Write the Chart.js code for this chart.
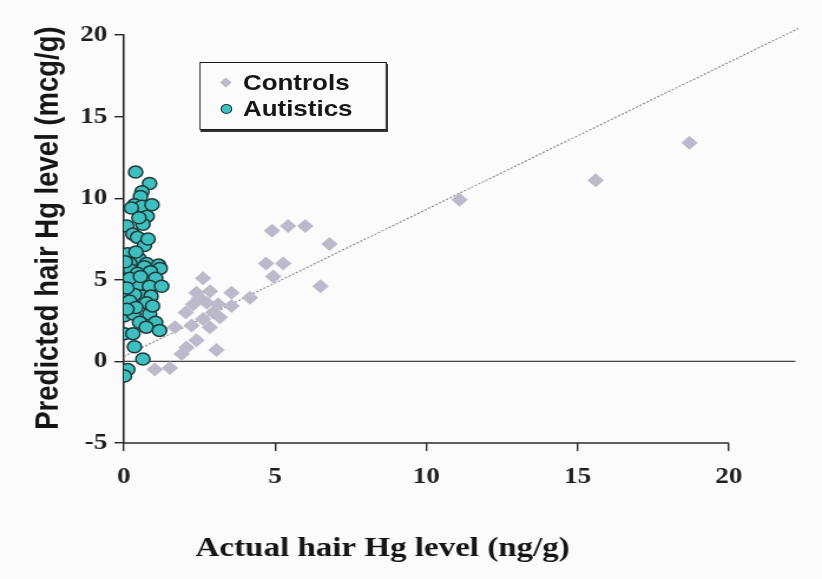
<!DOCTYPE html>
<html><head><meta charset="utf-8">
<script src="https://cdn.jsdelivr.net/npm/chart.js@4/dist/chart.umd.min.js"></script>
<style>
html,body{margin:0;padding:0;background:#fbfbfb;overflow:hidden;width:822px;height:579px;}
#wrap{position:absolute;left:0;top:0;width:697px;height:579px;transform:scaleX(1.1793);transform-origin:0 0;}
#legend{position:absolute;left:169px;top:62px;width:157px;height:66px;border:1.5px solid #1a1a1a;box-shadow:1px 2px 0 #333;background:#fbfbfb;font:bold 22px 'Liberation Sans',Arial,sans-serif;color:#161616;}
.row{position:absolute;left:0;height:26px;line-height:26px;}
.lbl{position:absolute;left:36px;top:0;white-space:nowrap;}
.dia{position:absolute;left:18px;top:9px;width:7px;height:7px;background:#bcb9cb;transform:rotate(45deg);}
.cir{position:absolute;left:17px;top:8px;width:8px;height:8px;border-radius:50%;background:#3fbfbf;border:1.5px solid #1d3b3d;}
</style></head>
<body>
<div id="wrap">
<canvas id="c"></canvas>
<div id="legend">
 <div class="row" style="top:7px"><span class="dia"></span><span class="lbl">Controls</span></div>
 <div class="row" style="top:33px"><span class="cir"></span><span class="lbl">Autistics</span></div>
</div>
</div>
<script>
// ---- data ----
const xTicks = [0, 5, 10, 15, 20];
const yTicks = [-5, 0, 5, 10, 15, 20];
const xTitle = 'Actual hair Hg level (ng/g)';
const yTitle = 'Predicted hair Hg level (mcg/g)';

const controlsX = [18.7, 15.6, 11.1, 6.8, 6.5, 6.0, 5.43, 4.9, 4.7, 5.27, 4.94, 4.17, 3.56, 3.56, 2.62, 2.4, 2.29, 2.74, 3.12, 2.95, 3.17, 2.62, 2.84, 2.24, 1.69, 2.4, 2.07, 1.91, 3.06, 1.52, 1.02, 2.5, 2.85, 2.05];
const controlsY = [13.4, 11.1, 9.9, 7.2, 4.6, 8.3, 8.3, 8.0, 6.0, 6.0, 5.2, 3.9, 4.2, 3.4, 5.1, 4.2, 3.5, 3.6, 3.5, 3.0, 2.7, 2.6, 2.1, 2.2, 2.1, 1.3, 0.85, 0.45, 0.7, -0.4, -0.5, 3.9, 4.3, 3.0];

const autisticsX = [0.39, 0.85, 0.6, 0.55, 0.35, 0.6, 0.93, 0.25, 0.77, 0.1, 0.63, 0.3, 0.45, 0.68, 0.13, 0.5, 0.2, 0.75, 1.15, 0.22, 0.68, 1.2, 0.45, 0.88, 1.05, 0.08, 0.5, 0.85, 1.25, 0.15, 0.6, 0.9, 0.35, 0.19, 0.75, 0.02, 0.32, 0.85, 0.52, 1.05, 0.74, 1.18, 0.02, 0.3, 0.35, 0.63, 0.13, 0.02, 0.4, 0.1, 0.95, 0.5, 0.2, 0.55, 0.05, 0.8, 0.4, 0.1];
const autisticsY = [11.6, 10.9, 10.4, 10.1, 9.6, 9.5, 9.6, 9.4, 8.9, 8.3, 8.4, 7.8, 7.6, 7.1, 6.6, 6.3, 6.0, 6.0, 5.9, 5.6, 5.8, 5.7, 5.4, 5.5, 5.1, 4.8, 4.7, 4.6, 4.6, 4.2, 4.0, 4.0, 4.1, 3.7, 3.6, 2.8, 2.9, 2.9, 2.4, 2.4, 2.1, 1.9, 1.7, 1.7, 0.9, 0.15, -0.5, -0.9, 3.3, 3.2, 3.4, 8.8, 5.1, 5.2, 6.1, 7.5, 6.7, 4.5];

const fitX = [0, 22.3];
const fitY = [0.3, 20.4];
const zeroX = [0, 22.2];
const zeroY = [0, 0];

const pts = (xs, ys) => xs.map((v, i) => ({x: v, y: ys[i]}));

const overlay = {
  id: 'overlay',
  beforeDatasetsDraw(chart) {
    const {ctx, scales: {x, y}} = chart;
    ctx.save();
    ctx.strokeStyle = '#2a2a2a';
    ctx.lineWidth = 1.6;
    ctx.beginPath();
    const yb = y.getPixelForValue(yTicks[0]);
    ctx.moveTo(x.getPixelForValue(xTicks[0]), yb);
    ctx.lineTo(x.getPixelForValue(xTicks[xTicks.length - 1]), yb);
    ctx.stroke();
    ctx.restore();
  },
  afterDraw(chart) {
    const {ctx} = chart;
    ctx.save();
    ctx.fillStyle = '#151515';
    ctx.textAlign = 'center';
    ctx.textBaseline = 'middle';
    ctx.font = "bold 28px 'Liberation Serif', 'Times New Roman', serif";
    ctx.fillText(xTitle, 324.5, 549);
    ctx.translate(41, 228);
    ctx.rotate(-Math.PI / 2);
    ctx.font = "bold 27.5px 'Liberation Sans', Arial, sans-serif";
    ctx.fillText(yTitle, 0, 0);
    ctx.restore();
  }
};

const tickFont = {family: "'Liberation Serif', 'Times New Roman', serif", size: 23, weight: 'bold'};

new Chart(document.getElementById('c'), {
  type: 'scatter',
  data: {
    datasets: [
      {label: 'Autistics', data: pts(autisticsX, autisticsY), pointStyle: 'circle', pointRadius: 6,
       backgroundColor: '#3fbfbf', borderColor: '#1d3b3d', borderWidth: 1.5, order: 0},
      {label: 'Controls', data: pts(controlsX, controlsY), pointStyle: 'rectRot', pointRadius: 7,
       backgroundColor: '#bcb9cb', borderWidth: 0, order: 1},
      {type: 'line', label: 'fit', data: pts(fitX, fitY), borderColor: '#858585', borderWidth: 1.1,
       borderDash: [2, 1.5], pointRadius: 0, fill: false, order: 2, clip: false},
      {type: 'line', label: 'zero', data: pts(zeroX, zeroY), borderColor: '#444', borderWidth: 1.3,
       pointRadius: 0, fill: false, order: 3, clip: false}
    ]
  },
  options: {
    responsive: true,
    maintainAspectRatio: false,
    animation: false,
    events: [],
    devicePixelRatio: 1,
    layout: {padding: {top: 35, right: 20, left: 0, bottom: 0}},
    plugins: {legend: {display: false}, tooltip: {enabled: false}},
    scales: {
      x: {
        type: 'linear', min: 0, max: 22.3,
        afterBuildTicks: s => { s.ticks = xTicks.map(v => ({value: v})); },
        afterFit: s => { s.height = 136; },
        border: {display: false},
        grid: {drawOnChartArea: false, drawTicks: true, tickLength: 8, color: '#2a2a2a', lineWidth: 1.4},
        ticks: {font: tickFont, color: '#1e1e1e', padding: 12, maxRotation: 0, autoSkip: false}
      },
      y: {
        type: 'linear', min: -5, max: 20,
        afterBuildTicks: s => { s.ticks = yTicks.map(v => ({value: v})); },
        afterFit: s => { s.width = 105; },
        border: {display: true, color: '#2a2a2a', width: 1.6},
        grid: {drawOnChartArea: false, drawTicks: true, tickLength: 8, color: '#2a2a2a', lineWidth: 1.4},
        ticks: {font: tickFont, color: '#1e1e1e', padding: 6, autoSkip: false}
      }
    }
  },
  plugins: [overlay]
});
</script>
</body></html>
